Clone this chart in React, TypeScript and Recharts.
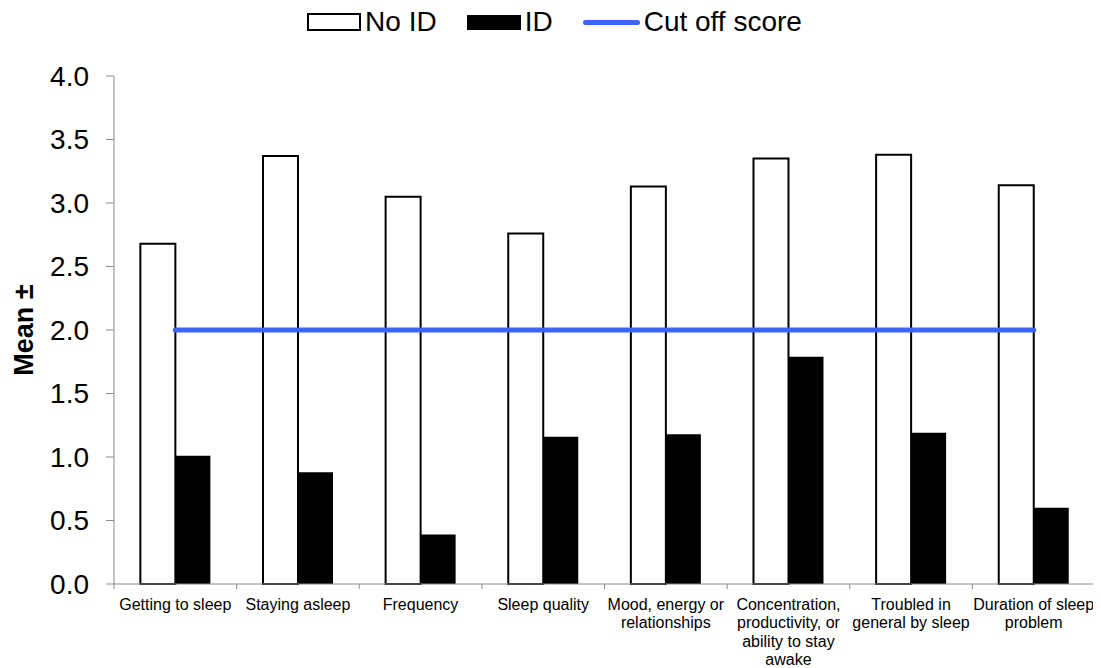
import React from 'react';
import { ComposedChart, Bar, Line, XAxis, YAxis, Legend } from 'recharts';

const categories = [
  'Getting to sleep',
  'Staying asleep',
  'Frequency',
  'Sleep quality',
  'Mood, energy or\nrelationships',
  'Concentration,\nproductivity, or\nability to stay\nawake',
  'Troubled in\ngeneral by sleep',
  'Duration of sleep\nproblem',
];
const noIdValues = [2.68, 3.37, 3.05, 2.76, 3.13, 3.35, 3.38, 3.14];
const idValues = [1.01, 0.88, 0.39, 1.16, 1.18, 1.79, 1.19, 0.6];
const cutOffValues = [2, 2, 2, 2, 2, 2, 2, 2];
const yTicks = [0, 0.5, 1, 1.5, 2, 2.5, 3, 3.5, 4];
const legendOrder = ['noId', 'id', 'cutOff'];

const data = categories.map((name, i) => ({
  name,
  noId: noIdValues[i],
  id: idValues[i],
  cutOff: cutOffValues[i],
}));

const W = 1093;
const H = 660;
const MARGIN = { top: 68, right: 6, bottom: 14, left: 0 };
const Y_AXIS_W = 106;
const STEP = (W - MARGIN.left - MARGIN.right - Y_AXIS_W) / categories.length;
const AXIS_GRAY = '#8a8a8a';
const BLUE = '#3b66f5';
const X_TICK_SIZE = 5;

const XTick = (props: any) => {
  const { x, y, payload, index } = props;
  const lines = String(payload.value).split('\n');
  const axisY = y - X_TICK_SIZE;
  return (
    <g>
      <line x1={x - STEP / 2} x2={x - STEP / 2} y1={axisY} y2={axisY + X_TICK_SIZE} stroke={AXIS_GRAY} />
      {index === categories.length - 1 && (
        <line x1={x + STEP / 2} x2={x + STEP / 2} y1={axisY} y2={axisY + X_TICK_SIZE} stroke={AXIS_GRAY} />
      )}
      <text x={x} y={axisY + 20} textAnchor="middle" fontSize={16} fill="#000">
        {lines.map((l, i) => (
          <tspan key={i} x={x} dy={i === 0 ? '0.35em' : 18.5}>
            {l}
          </tspan>
        ))}
      </text>
    </g>
  );
};

const YLabel = (props: any) => {
  const { viewBox } = props;
  const cx = viewBox.x + 16;
  const cy = viewBox.y + viewBox.height / 2;
  return (
    <text
      x={cx}
      y={cy}
      transform={`rotate(-90 ${cx} ${cy})`}
      textAnchor="middle"
      dominantBaseline="central"
      fontSize={27}
      fontWeight="bold"
      fill="#000"
    >
      Mean ±
    </text>
  );
};

const LegendContent = (props: any) => {
  const payload = [...(props.payload || [])].sort(
    (a: any, b: any) => legendOrder.indexOf(a.dataKey) - legendOrder.indexOf(b.dataKey)
  );
  return (
    <div
      style={{
        display: 'flex',
        justifyContent: 'center',
        alignItems: 'center',
        gap: 30,
        fontSize: 28,
        lineHeight: '32px',
        color: '#000',
      }}
    >
      {payload.map((p: any) => {
        let icon;
        if (p.dataKey === 'noId') {
          icon = <div style={{ width: 50, height: 14, border: '2px solid #000', background: '#fff' }} />;
        } else if (p.dataKey === 'id') {
          icon = <div style={{ width: 54, height: 15, background: '#000' }} />;
        } else {
          icon = <div style={{ width: 57, height: 5, borderRadius: 3, background: BLUE }} />;
        }
        return (
          <div key={p.value} style={{ display: 'flex', alignItems: 'center' }}>
            {icon}
            <span style={{ marginLeft: 4 }}>{p.value}</span>
          </div>
        );
      })}
    </div>
  );
};

export default function App() {
  return (
    <div style={{ fontFamily: '"Liberation Sans", Arial, sans-serif' }}>
      <ComposedChart
        width={W}
        height={H}
        data={data}
        margin={MARGIN}
        barCategoryGap="21.5%"
        barGap={0}
      >
        <XAxis
          dataKey="name"
          interval={0}
          height={70}
          stroke={AXIS_GRAY}
          tickLine={false}
          tickSize={X_TICK_SIZE}
          tickMargin={0}
          tick={<XTick />}
        />
        <YAxis
          domain={[0, 4]}
          ticks={yTicks}
          width={Y_AXIS_W}
          stroke={AXIS_GRAY}
          tickSize={8}
          tickMargin={17}
          tick={{ fill: '#000', fontSize: 28 }}
          tickFormatter={(v: number) => v.toFixed(1)}
          label={<YLabel />}
        />
        <Legend
          layout="horizontal"
          verticalAlign="middle"
          align="center"
          wrapperStyle={{ top: -2, left: 0, width: W }}
          content={<LegendContent />}
        />
        <Bar dataKey="noId" name="No ID" fill="#fff" stroke="#000" strokeWidth={2} isAnimationActive={false} />
        <Bar dataKey="id" name="ID" fill="#000" isAnimationActive={false} />
        <Line
          dataKey="cutOff"
          name="Cut off score"
          stroke={BLUE}
          strokeWidth={5}
          strokeLinecap="round"
          dot={false}
          activeDot={false}
          isAnimationActive={false}
        />
      </ComposedChart>
    </div>
  );
}
